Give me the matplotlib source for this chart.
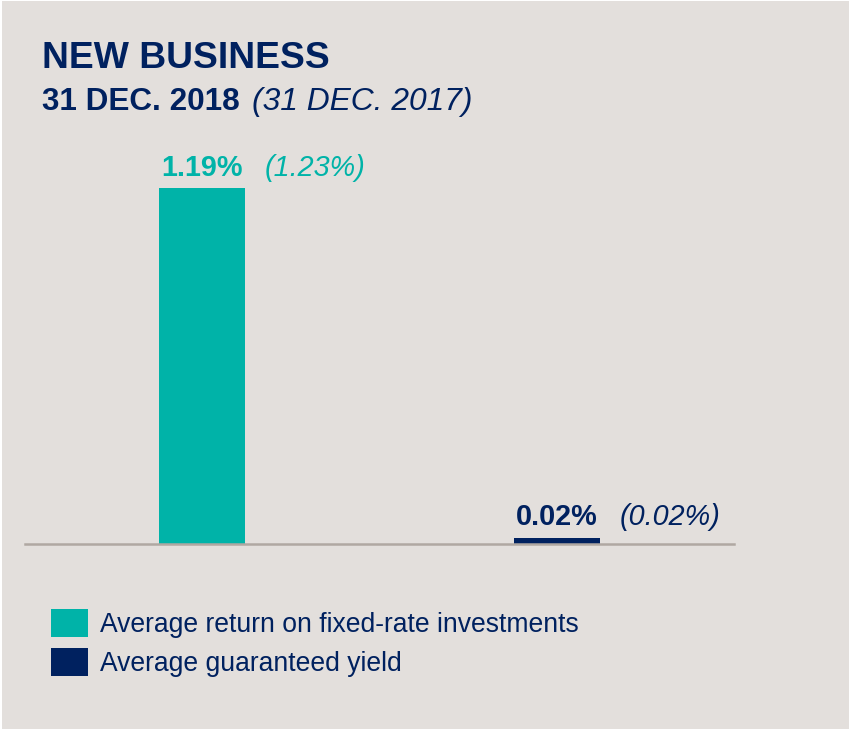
import matplotlib
matplotlib.use("Agg")
import matplotlib.pyplot as plt
from matplotlib.patches import Rectangle

# Data
series = ["Average return on fixed-rate investments", "Average guaranteed yield"]
values_2018 = [1.19, 0.02]
values_2017 = [1.23, 0.02]
title = "NEW BUSINESS"
date_current = "31 DEC. 2018"
date_previous = "(31 DEC. 2017)"

# Style
TEAL = "#00B3A8"
NAVY = "#00215F"
BG = "#E3DFDC"
RULE = "#B0A8A2"
colors = [TEAL, NAVY]
FONT = "Liberation Sans"

W, H, DPI = 850, 729, 100
fig = plt.figure(figsize=(W / DPI, H / DPI), dpi=DPI, facecolor="white")
fig.patches.append(Rectangle((2 / W, 0), (W - 3) / W, (H - 1) / H,
                             transform=fig.transFigure, facecolor=BG,
                             edgecolor="none", zorder=-10))

def px(x0, y0, x1, y1):
    """Figure rectangle from pixel box (top-left origin)."""
    return [x0 / W, 1 - y1 / H, (x1 - x0) / W, (y1 - y0) / H]

ax = fig.add_axes(px(25, 188, 734, 543.5))
ax.set_facecolor("none")

bar_w = 86 / 355
x = [0, 1]
bars = []
for i, (v, c, name) in enumerate(zip(values_2018, colors, series)):
    b = ax.bar(x[i], v, width=bar_w, color=c, label=name, zorder=2)
    bars.append(b)

ax.set_xlim(-177 / 355, (709 - 177) / 355)
ax.set_ylim(0, max(values_2018))
for s in ["top", "right", "left"]:
    ax.spines[s].set_visible(False)
ax.spines["bottom"].set_color(RULE)
ax.spines["bottom"].set_linewidth(1.8)
ax.spines["bottom"].set_zorder(3)
ax.set_xticks([])
ax.set_yticks([])

# Value labels: current year bold, previous year italic in brackets
for i, (v, pv, c) in enumerate(zip(values_2018, values_2017, colors)):
    ax.annotate(f"{v:.2f}%", xy=(x[i], v), xytext=(0, 9),
                textcoords="offset points", ha="center", va="baseline",
                fontsize=20.7, fontweight="bold", color=c, family=FONT)
    ax.annotate(f"({pv:.2f}%)", xy=(x[i] + bar_w / 2, v), xytext=(14, 9),
                textcoords="offset points", ha="left", va="baseline",
                fontsize=20.7, fontstyle="italic", color=c, family=FONT)

# Titles
fig.text(42 / W, 1 - 68 / H, title, fontsize=26.8, fontweight="bold",
         color=NAVY, family=FONT, va="baseline", ha="left")
t1 = fig.text(42 / W, 1 - 110 / H, date_current, fontsize=22.7,
              fontweight="bold", color=NAVY, family=FONT, va="baseline",
              ha="left")
ax.annotate(date_previous, xy=(1, 0), xycoords=t1, xytext=(9, 0),
            textcoords="offset points", va="bottom", ha="left",
            fontsize=22.9, fontstyle="italic", color=NAVY, family=FONT,
            annotation_clip=False)

# Legend
leg = fig.legend(handles=[b[0] for b in bars], labels=series,
                 loc="upper left", bbox_to_anchor=(51 / W, 1 - 609 / H),
                 frameon=False, handlelength=1.4,
                 handleheight=1.25, handletextpad=0.45, labelspacing=0.38,
                 borderaxespad=0, borderpad=0,
                 prop={"family": FONT, "size": 19.1})
for t in leg.get_texts():
    t.set_color(NAVY)

fig.savefig("out.png", dpi=DPI, facecolor=fig.get_facecolor())
